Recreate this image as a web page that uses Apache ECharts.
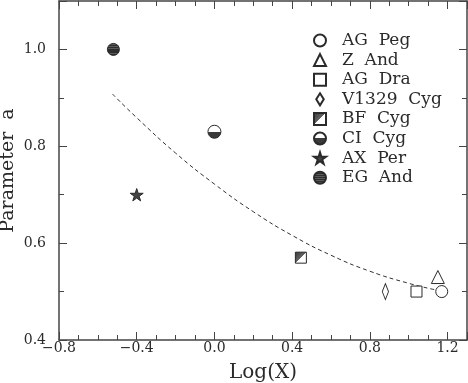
<!DOCTYPE html>
<html>
<head>
<meta charset="utf-8">
<script src="https://cdn.jsdelivr.net/npm/echarts@6/dist/echarts.min.js"></script>
<style>
  html, body { margin: 0; padding: 0; background: #fff; }
  #chart { width: 468px; height: 383px; }
</style>
</head>
<body>
<div id="chart"></div>
<script>
// stars, in legend order
var starNames = ['AG  Peg', 'Z  And', 'AG  Dra', 'V1329  Cyg', 'BF  Cyg', 'CI  Cyg', 'AX  Per', 'EG  And']
var logX = [1.17, 1.15, 1.04, 0.88, 0.445, 0.0, -0.40, -0.52]
var paramA = [0.50, 0.53, 0.50, 0.50, 0.57, 0.83, 0.70, 1.00]

// dashed fit curve
var curveX = [-0.525, -0.4, -0.2, 0.0, 0.2, 0.4, 0.6, 0.8, 1.0, 1.145]
var curveY = [0.908, 0.859, 0.786, 0.722, 0.665, 0.616, 0.575, 0.542, 0.517, 0.503]

var ink = '#2a2a2a'
var font = 'DejaVu Serif'

var G = echarts.graphic
// half filled circle: white top, dark bottom
var halfFill = new G.LinearGradient(0, 0, 0, 1, [
  { offset: 0, color: '#fff' }, { offset: 0.5, color: '#fff' },
  { offset: 0.5, color: '#3a3a3a' }, { offset: 1, color: '#3a3a3a' }
])
// square with hatched upper-left triangle
var diagFill = new G.LinearGradient(0, 0, 1, 1, [
  { offset: 0, color: '#333' }, { offset: 0.5, color: '#666' },
  { offset: 0.5, color: '#fff' }, { offset: 1, color: '#fff' }
])
// dark disc with faint horizontal stripes
var stripeStops = []
for (var i = 0; i < 7; i++) {
  stripeStops.push({ offset: i / 7, color: '#2e2e2e' })
  stripeStops.push({ offset: (i + 0.65) / 7, color: '#2e2e2e' })
  stripeStops.push({ offset: (i + 0.65) / 7, color: '#5a5a5a' })
  stripeStops.push({ offset: (i + 1) / 7, color: '#5a5a5a' })
}
var stripeFill = new G.LinearGradient(0, 0, 0, 1, stripeStops)

var starPath = 'path://M50,0L61,35L98,35L68,57L79,91L50,70L21,91L32,57L2,35L39,35Z'
var diamondPath = 'path://M5,0L10,8L5,16L0,8Z'

var symbols = ['circle', 'triangle', 'rect', diamondPath, 'rect', 'circle', starPath, 'circle']
var sizes = [12, 13, 11, [10, 16], 11, 13, 13, 12]
var fills = ['#fff', '#fff', '#fff', '#fff', diagFill, halfFill, '#444', stripeFill]

var series = starNames.map(function (name, i) {
  return {
    name: name,
    type: 'scatter',
    symbol: symbols[i],
    symbolSize: sizes[i],
    symbolKeepAspect: true,
    data: [[logX[i], paramA[i]]],
    itemStyle: { color: fills[i], borderColor: ink, borderWidth: 1, opacity: 1 },
    z: 3
  }
})
series.unshift({
  name: 'fit',
  type: 'line',
  data: curveX.map(function (x, i) { return [x, curveY[i]] }),
  smooth: true,
  symbol: 'none',
  lineStyle: { color: '#333', width: 1, type: [4, 3] },
  z: 2
})

function xAx (pos, labels) {
  return {
    type: 'value', position: pos, min: -0.8, max: 1.3, interval: 0.4,
    axisLine: { onZero: false, lineStyle: { color: '#444', width: 1.5 } },
    axisTick: { inside: true, length: 8, lineStyle: { color: '#444' } },
    minorTick: { show: true, splitNumber: 4, length: 5, lineStyle: { color: '#444' } },
    splitLine: { show: false },
    axisLabel: {
      show: labels, margin: 1, showMaxLabel: false, color: ink,
      fontFamily: font, fontSize: 14,
      formatter: function (v) { return (v < 0 ? '\u2212' : '') + Math.abs(v).toFixed(1) }
    },
    name: labels ? 'Log(X)' : '', nameLocation: 'middle', nameGap: 23, nameMoveOverlap: false,
    nameTextStyle: { color: ink, fontFamily: font, fontSize: 20 }
  }
}
function yAx (pos, labels) {
  return {
    type: 'value', position: pos, min: 0.4, max: 1.1, interval: 0.2,
    axisLine: { onZero: false, lineStyle: { color: '#444', width: 1.5 } },
    axisTick: { inside: true, length: 8, lineStyle: { color: '#444' } },
    minorTick: { show: true, splitNumber: 2, length: 5, lineStyle: { color: '#444' } },
    splitLine: { show: false },
    axisLabel: {
      show: labels, margin: 13, showMaxLabel: false, color: ink,
      fontFamily: font, fontSize: 14,
      formatter: function (v) { return v.toFixed(1) }
    },
    name: labels ? 'Parameter  a' : '', nameLocation: 'middle', nameGap: 41, nameMoveOverlap: false,
    nameTextStyle: { color: ink, fontFamily: font, fontSize: 19 }
  }
}

var myChart = echarts.init(document.getElementById('chart'))
myChart.setOption({
  animation: false,
  backgroundColor: '#fff',
  grid: { left: 59, right: 1, top: 1, bottom: 43, containLabel: false, outerBoundsMode: 'none' },
  xAxis: [xAx('bottom', true), xAx('top', false)],
  yAxis: [yAx('left', true), yAx('right', false)],
  legend: {
    data: starNames,
    orient: 'vertical',
    left: 313,
    top: 32,
    padding: 0,
    itemWidth: 12,
    itemHeight: 12,
    itemGap: 2.6,
    selectedMode: false,
    textStyle: { color: ink, fontFamily: font, fontSize: 17, padding: [0, 0, 0, 11] }
  },
  series: series
})
</script>
</body>
</html>
